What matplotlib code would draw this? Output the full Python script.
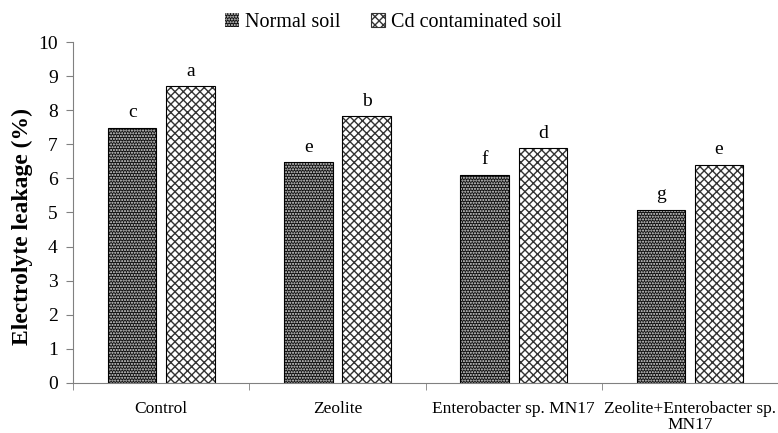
import matplotlib.pyplot as plt
import numpy as np
from matplotlib.patches import Patch

tratamientos = ["Control", "Zeolite", "Enterobacter sp. MN17", "Zeolite+Enterobacter sp.\nMN17"]
suelo_normal = [7.48, 6.47, 6.10, 5.07]
suelo_cd = [8.70, 7.82, 6.88, 6.40]
letras_normal = ["c", "e", "f", "g"]
letras_cd = ["a", "b", "d", "e"]

plt.rcParams['font.family'] = ['Liberation Serif', 'DejaVu Serif']
plt.rcParams['hatch.linewidth'] = 1.0

fig = plt.figure(figsize=(7.78, 4.33), dpi=100)
ax = fig.add_axes([0.094, 0.1155, 0.906, 0.7875])

x = np.arange(len(tratamientos))
ancho = 0.275
desp = 0.165

# barras suelo normal: fondo negro con puntos blancos
ax.bar(x - desp, suelo_normal, ancho, color="#111111", edgecolor="#e0e0e0", hatch="......", linewidth=0)
ax.bar(x - desp, suelo_normal, ancho, fill=False, edgecolor="black", linewidth=0.8)
# barras suelo con Cd: cuadricula en diagonal
ax.bar(x + desp, suelo_cd, ancho, color="white", edgecolor="#333333", hatch="xxxx", linewidth=0)
ax.bar(x + desp, suelo_cd, ancho, fill=False, edgecolor="black", linewidth=0.8)

for i in range(len(x)):
    ax.text(x[i] - desp, suelo_normal[i] + 0.2, letras_normal[i], ha="center", va="bottom", fontsize=14)
    ax.text(x[i] + desp, suelo_cd[i] + 0.2, letras_cd[i], ha="center", va="bottom", fontsize=14)

ax.set_xlim(-0.5, len(tratamientos) - 0.5)
ax.set_ylim(0, 10)
ax.set_yticks(np.arange(0, 11, 1))
ax.set_ylabel("Electrolyte leakage (%)", fontsize=17, fontweight="bold")
ax.yaxis.set_label_coords(-0.057, 0.46)

ax.set_xticks(x)
ax.set_xticklabels(tratamientos, fontsize=12.5, linespacing=1.0)
ax.set_xticks(np.arange(-0.5, len(tratamientos), 1), minor=True)
ax.tick_params(axis="x", which="major", length=0, pad=13)
ax.tick_params(axis="x", which="minor", length=5, color="#808080")
ax.tick_params(axis="y", length=5, color="#808080", labelsize=14, pad=6)

for lado in ["top", "right"]:
    ax.spines[lado].set_visible(False)
ax.spines["left"].set_color("#808080")
ax.spines["bottom"].set_color("#808080")

h1 = Patch(facecolor="#111111", edgecolor="#e0e0e0", hatch="......", linewidth=0)
h2 = Patch(facecolor="white", edgecolor="#333333", hatch="xxxx", linewidth=0.8)
fig.legend([h1, h2], ["Normal soil", "Cd contaminated soil"], loc="center", bbox_to_anchor=(0.506, 0.947),
           ncol=2, frameon=False, fontsize=14.5, handlelength=0.7, handleheight=0.7,
           handletextpad=0.3, columnspacing=1.5)

fig.savefig("out.png", dpi=100)
